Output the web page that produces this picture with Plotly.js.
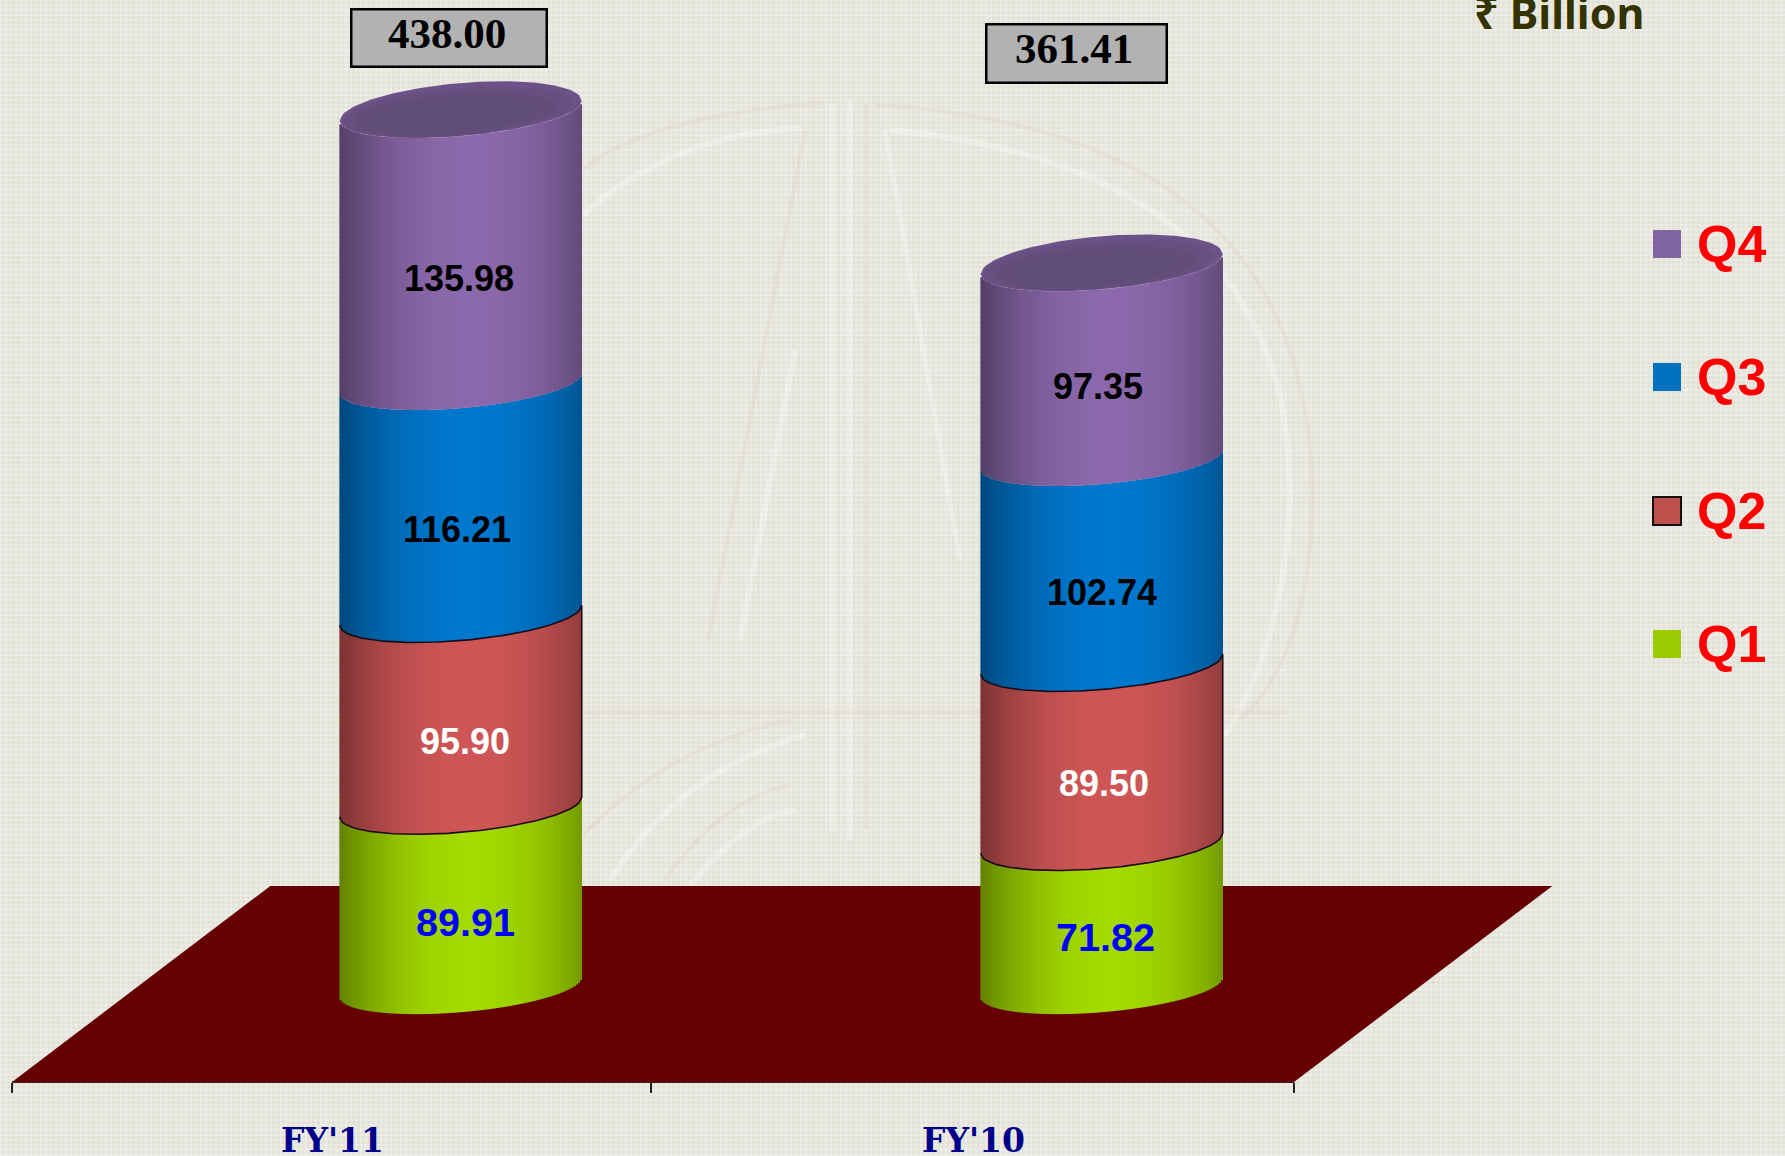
<!DOCTYPE html>
<html>
<head>
<meta charset="utf-8">
<script src="https://cdn.plot.ly/plotly-3.0.1.min.js"></script>
<style>
html,body{margin:0;padding:0;width:1785px;height:1156px;overflow:hidden;background-color:#e6e6dc;
background-image:
repeating-linear-gradient(90deg,rgba(255,255,255,.15) 0 2px,rgba(0,0,0,.012) 2px 5px),
repeating-linear-gradient(0deg,rgba(255,255,255,.15) 0 2px,rgba(0,0,0,.012) 2px 5px),
repeating-linear-gradient(90deg,rgba(255,255,255,.10) 0 9px,rgba(0,0,0,0) 9px 20px),
repeating-linear-gradient(0deg,rgba(255,255,255,.10) 0 9px,rgba(0,0,0,0) 9px 20px);}
#chart{width:1785px;height:1156px;}
</style>
</head>
<body>
<div id="chart"></div>
<script>
// ---- data ----
const years = ["FY'11", "FY'10"];
const q1 = [89.91, 71.82];
const q2 = [95.90, 89.50];
const q3 = [116.21, 102.74];
const q4 = [135.98, 97.35];
const totals = [438.00, 361.41];
const quarters = ["Q1", "Q2", "Q3", "Q4"];
const shadeColors = [[163,218,0],[207,86,86],[0,120,206],[139,105,172]];
const swatchColors = ["#9bca00","#c0504d","#0070c0","#8064a2"];
const labelColors = ["#0000ff","#ffffff","#000000","#000000"];

// ---- geometry of the fake 3-D ----
const W = 1785, H = 1156, PLOT_H = 1082;
const X_UNIT = 641, X0_PX = 12;           // px per category, px of x=0
const Y_MIN = -47.5, Y_MAX = 493.5;
const DEPTH_X = 0.2, RADIUS = 0.1888;     // cylinder shift and half width, in x units
const DIP = 12.6, DIP_TOP = 14, TILT = 5; // ellipse half heights and slant, in value units
const FLOOR_SHIFT = 0.403, FLOOR_BACK = 50.5;
const STRIPS = 121;
const xOfPx = p => (p - X0_PX) / X_UNIT;
const yOfPx = p => Y_MAX - p * (Y_MAX - Y_MIN) / PLOT_H;

const series = [q1, q2, q3, q4];
const lower = u => -DIP * Math.sqrt(Math.max(0, 1 - u * u)) + TILT * u;
const upper = u =>  DIP_TOP * Math.sqrt(Math.max(0, 1 - u * u)) + TILT * u;
const strips = [];
for (let i = 0; i < STRIPS; i++) strips.push(-1 + (2 * i + 1) / STRIPS);
const shade = (c, u) => {
  const f = 1 - 0.40 * Math.pow(Math.abs(u - 0.08) / 1.08, 2.1);
  return "rgb(" + c.map(v => Math.round(v * f)).join(",") + ")";
};
const cumBelow = (s, y) => { let t = 0; for (let k = 0; k < s; k++) t += series[k][y]; return t; };

const traces = [];
// stacked cylinder walls: one bar trace per quarter, one thin bar per shading strip
quarters.forEach((name, s) => {
  const x = [], y = [], base = [], color = [];
  years.forEach((yr, yi) => {
    const start = cumBelow(s, yi);
    strips.forEach(u => {
      x.push(yi + 0.5 + DEPTH_X + u * RADIUS);
      y.push(series[s][yi]);
      base.push(start + lower(u));
      color.push(shade(shadeColors[s], u));
    });
  });
  traces.push({type: "bar", name, x, y, base, width: 2 * RADIUS / STRIPS * 1.3,
    marker: {color, line: {width: 0}}, showlegend: false, hoverinfo: "skip"});
});

// cylinder lids
const arcU = [];
for (let i = 0; i <= 90; i++) arcU.push(-1 + i / 45);
const LID_LAYERS = [[1, 1, 1, "#6d5189"], [0.95, 0.86, 0.94, "#675080"], [0.84, 0.70, 0.9, "#624d7b"], [0.68, 0.5, 0.72, "#5f4c78"]];
years.forEach((yr, yi) => {
  const cx = yi + 0.5 + DEPTH_X, t = totals[yi];
  LID_LAYERS.forEach(([sx, su, sl, col], k) => {
    const lx = [], ly = [];
    const dx = k ? -0.004 * k : 0, dy = k ? -0.5 * k : 0;
    arcU.forEach(u => { lx.push(cx + dx + u * RADIUS * sx); ly.push(t + dy + upper(u) * su); });
    arcU.slice().reverse().forEach(u => { lx.push(cx + dx + u * RADIUS * sx); ly.push(t + dy + lower(u) * sl); });
    traces.push({type: "scatter", mode: "lines", x: lx, y: ly, fill: "toself", fillcolor: col,
      line: {width: 0, color: col}, showlegend: false, hoverinfo: "skip"});
  });
  // dark outline of the Q2 band (both seams and the right edge)
  const bottom = cumBelow(1, yi), top = cumBelow(2, yi);
  const ox = [], oy = [];
  arcU.forEach(u => { ox.push(cx + u * RADIUS); oy.push(bottom + lower(u)); });
  arcU.slice().reverse().forEach(u => { ox.push(cx + u * RADIUS); oy.push(top + lower(u)); });
  traces.push({type: "scatter", mode: "lines", x: ox, y: oy, line: {width: 1.6, color: "#1c0a14"},
    showlegend: false, hoverinfo: "skip"});
});

// legend swatches
const LEG_X = 1667, LEG_Y = [644, 511, 377, 244];
quarters.forEach((name, s) => {
  traces.push({type: "scatter", mode: "markers", name, x: [xOfPx(LEG_X)], y: [yOfPx(LEG_Y[s])],
    marker: {symbol: "square", size: 28, color: swatchColors[s],
             line: {width: s === 1 ? 2 : 0, color: "#111"}},
    showlegend: false, hoverinfo: "skip"});
});

// labels
const annotations = [];
const LABEL_PX = [[[465,922],[1105.5,937]],[[465,741],[1104,783]],[[457,529],[1102,592]],[[459,278],[1098,386]]];
series.forEach((vals, s) => vals.forEach((v, yi) => {
  annotations.push({x: xOfPx(LABEL_PX[s][yi][0]), y: yOfPx(LABEL_PX[s][yi][1]), text: v.toFixed(2), showarrow: false,
    xanchor: "center", yanchor: "middle",
    font: {family: "Liberation Sans", size: s === 0 ? 39.5 : 36, color: labelColors[s], weight: 700}});
}));
quarters.forEach((name, s) => {
  annotations.push({x: xOfPx(1695), y: yOfPx(LEG_Y[s]), text: name, showarrow: false, xanchor: "left", yanchor: "middle",
    font: {family: "Liberation Sans", size: 52, color: "#ff0000", weight: 700}});
});
const BOX = [{cx: 448.5, cy: 37.5, w: 197, h: 59, ty: 33}, {cx: 1076, cy: 53, w: 182, h: 60, ty: 48}];
totals.forEach((t, yi) => {
  annotations.push({x: xOfPx(BOX[yi].cx), y: yOfPx(BOX[yi].cy), text: " ", showarrow: false,
    width: BOX[yi].w - 4, height: BOX[yi].h - 4, borderpad: 0,
    bgcolor: "#b2b2b2", bordercolor: "#000", borderwidth: 2.5, font: {size: 12}});
  annotations.push({x: xOfPx(BOX[yi].cx - 2), y: yOfPx(BOX[yi].ty), text: t.toFixed(2), showarrow: false,
    xanchor: "center", yanchor: "middle",
    font: {family: "Liberation Serif", size: 43, color: "#000", weight: 700}});
});
annotations.push({x: xOfPx(1647), y: yOfPx(12), text: "₹ Billion", showarrow: false, xanchor: "right", yanchor: "middle",
  font: {family: "Noto Sans", size: 43, color: "#333300", weight: 700}});

// faint background emblem, in page pixels
const pp = d => { let n = 0; return d.replace(/-?\d+(\.\d+)?/g, m => {
  const r = (n++ % 2 === 0) ? (+m / W) : (1 - (+m) / PLOT_H); return r.toFixed(5); }); };
const WM_WHITE = "rgba(255,255,255,.28)", WM_PINK = "rgba(222,205,195,.28)";
const wm = (d, color, width) => ({type: "path", layer: "below", xref: "paper", yref: "paper", path: pp(d),
  line: {color, width}, fillcolor: "rgba(0,0,0,0)"});
const shapes = [
  wm("M583 169 Q650 115 825 103", WM_PINK, 4),
  wm("M583 215 Q670 135 800 128", WM_WHITE, 6),
  wm("M805 131 L708 641", WM_PINK, 4),
  wm("M795 350 L740 640", WM_WHITE, 6),
  wm("M832 103 L832 830", WM_WHITE, 6),
  wm("M866 103 L866 830", WM_PINK, 4),
  wm("M850 100 L850 840", WM_WHITE, 6),
  wm("M885 130 L960 560", WM_WHITE, 5),
  wm("M875 105 Q1300 130 1312 480 Q1315 650 1240 720", WM_PINK, 4),
  wm("M890 130 Q1295 170 1290 500 Q1285 640 1225 735", WM_WHITE, 6),
  wm("M583 712 L1290 712", WM_PINK, 6),
  wm("M583 835 Q670 745 790 720", WM_PINK, 4),
  wm("M610 880 Q680 770 805 735", WM_WHITE, 6),
  wm("M665 880 Q720 800 790 785", WM_PINK, 4),
  wm("M690 885 Q750 815 795 810", WM_WHITE, 6),
  {type: "path", layer: "below", xref: "x", yref: "y", fillcolor: "#660000", line: {width: 0},
   path: `M 0 ${Y_MIN} L 2 ${Y_MIN} L ${2 + FLOOR_SHIFT} ${FLOOR_BACK} L ${FLOOR_SHIFT} ${FLOOR_BACK} Z`},
  {type: "line", layer: "below", xref: "x", yref: "paper", x0: 0, x1: 2, y0: 0, y1: 0, line: {color: "#3a2222", width: 2}}
];

const layout = {
  width: W, height: H, margin: {l: 0, r: 0, t: 0, b: H - PLOT_H, pad: 0},
  paper_bgcolor: "rgba(0,0,0,0)", plot_bgcolor: "rgba(0,0,0,0)",
  barmode: "overlay", showlegend: false, hovermode: false,
  xaxis: {range: [xOfPx(0), xOfPx(W)], tickmode: "array", tickvals: [0.5, 1.5], ticktext: years,
    ticks: "outside", ticklen: 29, tickcolor: "rgba(0,0,0,0)", showgrid: false, zeroline: false,
    showline: false, fixedrange: true,
    tickfont: {family: "DejaVu Serif", size: 33, color: "#00008b", weight: 700},
    minor: {tickmode: "array", tickvals: [0, 0.997, 2], ticks: "outside", ticklen: 10, tickwidth: 2, tickcolor: "#222", showgrid: false}},
  yaxis: {range: [Y_MIN, Y_MAX], visible: false, fixedrange: true},
  annotations, shapes
};
Plotly.newPlot("chart", traces, layout, {displayModeBar: false, responsive: false});
</script>
</body>
</html>
